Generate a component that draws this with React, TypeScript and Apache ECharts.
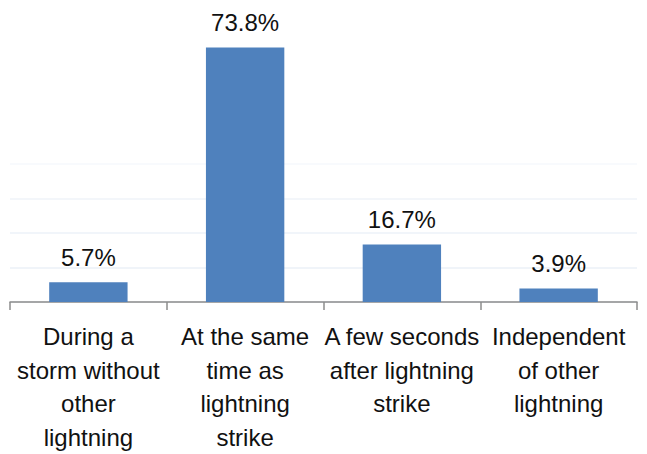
import React, { useEffect, useRef } from "react";
import * as echarts from "echarts";

const categories = [
  "During a\nstorm without\nother\nlightning",
  "At the same\ntime as\nlightning\nstrike",
  "A few seconds\nafter lightning\nstrike",
  "Independent\nof other\nlightning",
];
const values = [5.7, 73.8, 16.7, 3.9];

const FONT = "'Liberation Sans', Arial, sans-serif";

export default function App() {
  const ref = useRef<HTMLDivElement>(null);
  useEffect(() => {
    if (!ref.current) return;
    const chart = echarts.init(ref.current, undefined, { renderer: "svg" });
    chart.setOption({
      animation: false,
      backgroundColor: "#ffffff",
      grid: { left: 10, right: 10, top: 164, bottom: 150, containLabel: false },
      xAxis: {
        type: "category",
        data: categories,
        axisLine: { lineStyle: { color: "#8c8c8c", width: 1.5 } },
        axisTick: { show: true, length: 8, lineStyle: { color: "#8c8c8c", width: 1.5 } },
        axisLabel: {
          interval: 0,
          margin: 18,
          fontFamily: FONT,
          fontSize: 24,
          lineHeight: 33.5,
          color: "#111111",
        },
      },
      yAxis: {
        type: "value",
        min: 0,
        max: 40,
        interval: 10,
        axisLabel: { show: false },
        axisLine: { show: false },
        axisTick: { show: false },
        splitLine: {
          lineStyle: {
            color: ["#ebf0f7", "#ebf0f7", "#edf2f8", "#eff3f9", "#f6f8fc"],
            width: 1.5,
          },
        },
      },
      series: [
        {
          type: "bar",
          data: values,
          barWidth: "50%",
          clip: false,
          itemStyle: { color: "#4f81bd" },
          label: {
            show: true,
            position: "top",
            distance: 13,
            formatter: (p: any) => p.value.toFixed(1) + "%",
            fontFamily: FONT,
            fontSize: 24,
            color: "#111111",
          },
        },
      ],
    });
    return () => chart.dispose();
  }, []);
  return <div ref={ref} style={{ width: 647, height: 454, position: "absolute", left: 0, top: 0 }} />;
}
